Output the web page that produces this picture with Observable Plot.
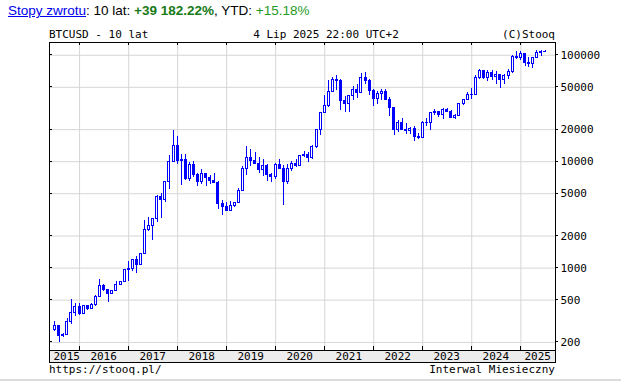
<!DOCTYPE html>
<html><head><meta charset="utf-8">
<script src="https://cdn.jsdelivr.net/npm/d3@7"></script>
<script src="https://cdn.jsdelivr.net/npm/@observablehq/plot@0.6"></script>
<style>
body{margin:0;background:#fff;}
#wrap{position:relative;width:621px;height:382px;overflow:hidden;background:#fff;}
#hdr{position:absolute;left:8px;top:3px;font:13.5px "Liberation Sans",Arial,sans-serif;color:#000;white-space:nowrap;line-height:15px;}
#hdr a{color:#0000ee;text-decoration:underline;}
.g1{color:#177a17;font-weight:bold}
.g2{color:#1f9a1f}
#line{position:absolute;left:0;top:379px;width:621px;height:2px;background:#dcdcdc}
#chart{position:absolute;left:0;top:0}
</style></head>
<body>
<div id="wrap">
<div id="chart"></div>
<div id="hdr"><a href="#">Stopy zwrotu</a>: 10 lat: <span class="g1">+39 182.22%</span>, YTD: <span class="g2">+15.18%</span></div>
<div id="line"></div>
</div>
<script>
// ---- data (monthly OHLC, BTCUSD, Jul 2015 - Jul 2025) ----
const startMonth = [2015, 6]; // July 2015 (0-based month)
const open = [
 263,284,230,236,314,378,
 430,368,437,416,448,531,673,624,573,608,700,745,
 963,970,1190,1080,1350,2300,2480,2875,4700,4340,6450,9950,
 13900,10200,10300,6920,9240,7490,6400,7730,7030,6630,6370,4040,
 3740,3460,3830,4100,5320,8570,10820,10080,9600,8290,9200,7540,
 7190,9350,8600,6410,8620,9450,9140,11350,11650,10780,13800,19700,
 28990,33100,45200,58800,57700,37300,35040,41460,47100,43800,61300,57000,
 46300,38500,43200,45500,37700,31800,19900,23300,20050,19430,20500,17170,
 16550,23130,23150,28480,29250,27220,30480,29230,25940,26970,34650,37720,
 42280,42580,61200,71300,60600,67500,62700,64600,58970,63300,70200,96400,
 93400,102400,84300,82500,94200,104600,107100];
const high = [
 318,284,243,334,503,466,
 462,442,439,467,550,780,705,625,620,740,755,980,
 1150,1210,1290,1350,2790,2980,2920,4770,4980,6470,11400,19700,
 17200,11800,11600,9750,9990,7770,8480,7760,7400,7680,6550,4310,
 4110,4200,4130,5620,9100,13880,13130,12320,10950,10540,9510,7750,
 9580,10500,9180,9480,10070,10400,11430,12470,12070,14080,19850,29300,
 41900,58350,61800,64900,59500,41300,42300,50500,52900,67000,69000,59100,
 48000,45800,48200,47400,39900,31900,24600,25200,22800,21000,21450,18400,
 23950,25250,29200,31000,29800,31400,31800,30200,27500,35200,38400,44700,
 48900,64000,73750,72700,71950,71950,70000,65100,66500,73600,99600,108300,
 109100,102800,95000,95800,111900,110500,110500];
const low = [
 253,199,225,236,298,350,
 355,365,395,415,436,525,606,470,570,605,690,740,
 755,930,890,1070,1340,2200,1830,2670,2950,4170,5500,9900,
 9400,6000,6600,6500,7060,5790,6100,5880,6100,6200,3560,3150,
 3400,3380,3730,4080,5300,7450,9070,9400,7710,7300,6520,6420,
 6870,8450,3860,6150,8120,8900,8970,10950,9880,10380,13200,17600,
 28200,32300,45000,47000,30000,28800,29300,37300,39600,43300,53300,42000,
 32900,34300,37200,37600,26700,17600,18800,19600,18200,18200,15500,16300,
 16500,21350,19600,26900,25800,24800,28900,25400,24900,26600,34100,37600,
 38500,41900,59300,59200,56600,58500,53500,49000,52600,58900,66800,90500,
 89200,78200,76600,74400,93400,98200,105100];
const close = [
 284,230,236,314,378,430,
 368,437,416,448,531,673,624,573,608,700,745,963,
 970,1190,1080,1350,2300,2480,2875,4700,4340,6450,9950,13900,
 10200,10300,6920,9240,7490,6400,7730,7030,6630,6370,4040,3740,
 3460,3830,4100,5320,8570,10820,10080,9600,8290,9150,7540,7190,
 9350,8600,6410,8620,9450,9140,11350,11650,10780,13800,19700,28990,
 33100,45200,58800,57700,37300,35040,41460,47100,43800,61300,57000,46300,
 38500,43200,45500,37700,31800,19900,23300,20050,19430,20500,17170,16550,
 23130,23150,28480,29250,27220,30480,29230,25940,26970,34650,37720,42280,
 42580,61200,71300,60600,67500,62700,64600,58970,63300,70200,96400,93400,
 102400,84300,82500,94200,104600,107100,107600];
const yTicks = [200, 500, 1000, 2000, 5000, 10000, 20000, 50000, 100000];
const yearLabels = [2015,2016,2017,2018,2019,2020,2021,2022,2023,2024,2025];
const titleLeft = "BTCUSD - 10 lat";
const titleMid = "4 Lip 2025 22:00 UTC+2";
const titleRight = "(C)Stooq";
const footLeft = "https://stooq.pl/";
const footRight = "Interwal Miesieczny";

// ---- build table ----
const data = open.map((o, i) => ({
  date: new Date(Date.UTC(startMonth[0], startMonth[1] + i, 1)),
  open: o, high: high[i], low: low[i], close: close[i]
}));
const xDomain = [new Date(Date.UTC(2015,4,22)), new Date(Date.UTC(2025,8,16))];
const yDomain = [168, 131900];
const yearStarts = yearLabels.slice(1).map(y => new Date(Date.UTC(y,0,1)));
const DAY = 864e5;
const half = 7.45 * DAY;
const blue = "#0000ff";
const grid = "#d6d6d6";
const mono = '"DejaVu Sans Mono", monospace';

const chart = Plot.plot({
  width: 621, height: 382,
  marginLeft: 49, marginRight: 66, marginTop: 42, marginBottom: 32,
  style: {fontFamily: mono, fontSize: "11px", color: "#000", background: "transparent", overflow: "visible"},
  x: {type: "utc", domain: xDomain, axis: null},
  y: {type: "log", domain: yDomain, axis: null},
  marks: [
    Plot.ruleX(yearStarts, {x: d => d, stroke: grid, strokeWidth: 1}),
    Plot.ruleY(yTicks, {y: d => d, stroke: grid, strokeWidth: 1}),
    Plot.ruleX(data, {x: "date", y1: "low", y2: "high", stroke: blue, strokeWidth: 1, shapeRendering: "crispEdges"}),
    Plot.rect(data, {
      x1: d => new Date(+d.date - half), x2: d => new Date(+d.date + half),
      y1: "open", y2: "close",
      fill: d => d.close >= d.open ? "#fff" : blue,
      stroke: blue, strokeWidth: 1, shapeRendering: "crispEdges"
    }),
    Plot.frame({stroke: "#000", shapeRendering: "crispEdges"}),
    Plot.text(yTicks, {y: d => d, frameAnchor: "right", dx: 5, textAnchor: "start", text: d => String(d), fill: "#000", fontSize: 11, fontFamily: mono})
  ]
});
document.getElementById("chart").appendChild(chart);

// ---- decorations using the chart's scales ----
const sx = chart.scale("x"), sy = chart.scale("y");
const [xl, xr] = sx.range;
const yb = Math.max(...sy.range), yt = Math.min(...sy.range);
const svg = d3.select(chart);
const g = svg.append("g").attr("shape-rendering", "crispEdges");
// band under plot
g.append("rect").attr("x", xl).attr("y", yb).attr("width", xr - xl).attr("height", 12)
  .attr("fill", "#ececec").attr("stroke", "#000");
// ticks: top/bottom at year starts, left inward / right outward at y ticks
yearStarts.forEach(d => {
  const x = sx.apply(d);
  g.append("line").attr("x1", x).attr("x2", x).attr("y1", yt).attr("y2", yt + 3).attr("stroke", "#000");
  g.append("line").attr("x1", x).attr("x2", x).attr("y1", yb - 4).attr("y2", yb).attr("stroke", "#000");
});
yTicks.forEach(v => {
  const y = sy.apply(v);
  g.append("line").attr("x1", xl).attr("x2", xl + 3).attr("y1", y).attr("y2", y).attr("stroke", "#000");
  g.append("line").attr("x1", xr).attr("x2", xr + 3).attr("y1", y).attr("y2", y).attr("stroke", "#000");
});
// year labels centered in visible part of each year
const firstDate = data[0].date;
const txt = svg.append("g").attr("font-family", mono).attr("font-size", 11).attr("fill", "#000").attr("text-anchor", "start");
yearLabels.forEach(y => {
  const a = Math.max(+new Date(Date.UTC(y,0,1)), +firstDate);
  const b = Math.min(+new Date(Date.UTC(y+1,0,1)), +xDomain[1]);
  txt.append("text").attr("x", sx.apply(new Date((a + b) / 2))).attr("y", yb + 10).attr("text-anchor", "middle").text(y);
});
// titles and footer
txt.append("text").attr("x", xl).attr("y", yt - 4).attr("text-anchor", "start").text(titleLeft);
txt.append("text").attr("x", (xl + xr) / 2 + 24).attr("y", yt - 4).attr("text-anchor", "middle").text(titleMid);
txt.append("text").attr("x", xr).attr("y", yt - 4).attr("text-anchor", "end").text(titleRight);
txt.append("text").attr("x", xl).attr("y", yb + 23).attr("text-anchor", "start").text(footLeft);
txt.append("text").attr("x", xr).attr("y", yb + 23).attr("text-anchor", "end").text(footRight);
</script>
</body></html>
